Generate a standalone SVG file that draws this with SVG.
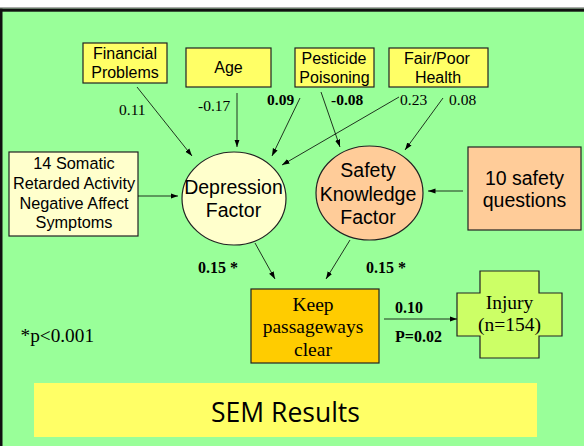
<svg xmlns="http://www.w3.org/2000/svg" width="584" height="446" viewBox="0 0 584 446">
<defs>
<marker id="ah" markerUnits="userSpaceOnUse" markerWidth="8" markerHeight="6" refX="7.5" refY="3" orient="auto">
<path d="M0,0.4 L7.5,3 L0,5.6 z" fill="#000"/>
</marker>
</defs>
<style>
.box{stroke:#222;stroke-width:1.2}
.yl{fill:#FFFF66}
.cr{fill:#FFFFCC}
.pe{fill:#FFCC99}
.or{fill:#FFCC00}
.lm{fill:#CCFF66}
.sans{font-family:"Liberation Sans",Arial,sans-serif;fill:#000;text-anchor:middle}
.ser{font-family:"Liberation Serif","Times New Roman",serif;fill:#000}
.lbl{font-size:15.5px}
.b{font-weight:bold}
.con line{stroke:#000;stroke-width:0.8;marker-end:url(#ah)}
</style>
<rect x="0" y="0" width="584" height="446" fill="#99FF99"/>
<rect x="0" y="0" width="584" height="8" fill="#fff"/>
<rect x="0" y="7.3" width="584" height="1.4" fill="#888"/>
<rect x="0" y="8.7" width="584" height="3" fill="#111"/>
<rect x="0" y="8.7" width="2.5" height="437.3" fill="#111"/>

<g id="financial">
<rect class="box yl" x="83" y="43" width="84" height="40"/>
<text class="sans" font-size="16" x="125" y="59">Financial</text>
<text class="sans" font-size="16" x="125" y="78">Problems</text>
</g>
<g id="age">
<rect class="box yl" x="186" y="48" width="85" height="39"/>
<text class="sans" font-size="16" x="228.5" y="73">Age</text>
</g>
<g id="pesticide">
<rect class="box yl" x="295" y="48" width="79" height="39"/>
<text class="sans" font-size="16" x="334" y="64">Pesticide</text>
<text class="sans" font-size="16" x="334.5" y="83">Poisoning</text>
</g>
<g id="health">
<rect class="box yl" x="389" y="48" width="99" height="39"/>
<text class="sans" font-size="16" x="437" y="64">Fair/Poor</text>
<text class="sans" font-size="16" x="438" y="83">Health</text>
</g>
<g id="somatic">
<rect class="box cr" x="9" y="152" width="129" height="84"/>
<text class="sans" font-size="16.3" x="74" y="169">14 Somatic</text>
<text class="sans" font-size="16.3" x="74" y="189">Retarded Activity</text>
<text class="sans" font-size="16.3" x="74" y="209">Negative Affect</text>
<text class="sans" font-size="16.3" x="74" y="228">Symptoms</text>
</g>
<g id="depression">
<ellipse class="box cr" cx="234" cy="198.5" rx="52" ry="46.5"/>
<text class="sans" font-size="19.5" x="233.5" y="194">Depression</text>
<text class="sans" font-size="19.5" x="233.5" y="217">Factor</text>
</g>
<g id="safety">
<ellipse class="box pe" cx="369.5" cy="193" rx="53.5" ry="47"/>
<text class="sans" font-size="19.5" x="368" y="177">Safety</text>
<text class="sans" font-size="19.5" x="368" y="201">Knowledge</text>
<text class="sans" font-size="19.5" x="368" y="224">Factor</text>
</g>
<g id="questions">
<rect class="box pe" x="468" y="147" width="113" height="83"/>
<text class="sans" font-size="19.5" x="524.5" y="185">10 safety</text>
<text class="sans" font-size="19.5" x="524.5" y="207">questions</text>
</g>
<g id="keep">
<rect class="box or" x="251" y="289" width="128" height="74"/>
<text class="ser" font-size="19.5" text-anchor="middle" x="313" y="311">Keep</text>
<text class="ser" font-size="19.5" text-anchor="middle" x="313" y="333">passageways</text>
<text class="ser" font-size="19.5" text-anchor="middle" x="313" y="356">clear</text>
</g>
<g id="injury">
<path class="box lm" d="M480,271 H539 V293 H562 V336 H539 V358 H480 V336 H457 V293 H480 Z"/>
<text class="ser" font-size="19.5" text-anchor="middle" x="509.5" y="309">Injury</text>
<text class="ser" font-size="19.5" text-anchor="middle" x="509.5" y="331">(n=154)</text>
</g>

<g id="connectors" class="con">
<line x1="137" y1="87" x2="192" y2="156"/>
<line x1="237" y1="93" x2="237" y2="147"/>
<line x1="300" y1="98" x2="272" y2="156"/>
<line x1="399" y1="97" x2="282" y2="165"/>
<line x1="321" y1="92" x2="340" y2="147"/>
<line x1="443" y1="98" x2="405" y2="150"/>
<line x1="138" y1="196" x2="178" y2="196"/>
<line x1="463" y1="191" x2="428" y2="191"/>
<line x1="255" y1="243" x2="275" y2="279"/>
<line x1="350" y1="240" x2="326" y2="279"/>
<line x1="384" y1="319" x2="457" y2="319"/>
</g>

<g id="labels">
<text class="ser lbl" x="119" y="115">0.11</text>
<text class="ser lbl" x="198" y="111">-0.17</text>
<text class="ser lbl b" x="267" y="105">0.09</text>
<text class="ser lbl b" x="331" y="105">-0.08</text>
<text class="ser lbl" x="400" y="105">0.23</text>
<text class="ser lbl" x="449" y="105">0.08</text>
<text class="ser b" font-size="16" x="198" y="273">0.15 *</text>
<text class="ser b" font-size="16" x="366" y="273">0.15 *</text>
<text class="ser b" font-size="16" x="395" y="313">0.10</text>
<text class="ser b" font-size="16" x="395" y="342">P=0.02</text>
<text class="ser" font-size="19.3" x="20.5" y="342">*p&lt;0.001</text>
</g>

<g id="title">
<rect x="34" y="383" width="503" height="54" fill="#FFFF66"/>
<text font-family="'Open Sans','DejaVu Sans',sans-serif" font-size="26.5" text-anchor="middle" x="285.5" y="421.5" fill="#000">SEM Results</text>
</g>
</svg>
